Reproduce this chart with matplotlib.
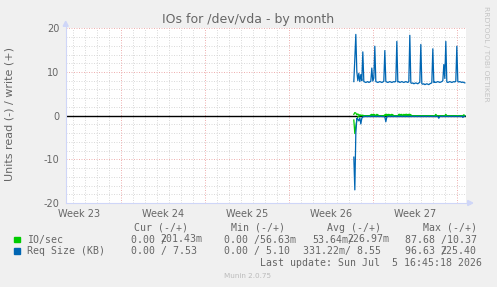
import numpy as np
import pandas as pd
import matplotlib
matplotlib.use("Agg")
import matplotlib.pyplot as plt
import matplotlib.dates as mdates
from matplotlib.patches import Rectangle, Polygon

# ---------------- data ----------------
title = "IOs for /dev/vda - by month"
ylabel = "Units read (-) / write (+)"
week_labels = ["Week 23", "Week 24", "Week 25", "Week 26", "Week 27"]
week_label_times = ["2026-06-03 12:00", "2026-06-10 12:00", "2026-06-17 12:00",
                    "2026-06-24 12:00", "2026-07-01 12:00"]
week_starts = ["2026-06-07", "2026-06-14", "2026-06-21", "2026-06-28", "2026-07-05"]
view_end = "2026-07-05 16:45:18"
view_days = 400 * 2 / 24.0
data_start = "2026-06-26 09:00"
data_step = "2h"
y_ticks = [-20, -10, 0, 10, 20]

# Req Size (KB), write (+)
size_write = [7.8, 13.0, 18.6, 10.1, 8.0, 9.7, 7.8, 9.4, 8.0, 14.6,
              7.8, 7.7, 7.6, 7.7, 7.8, 7.6, 7.7, 7.9, 10.9, 7.9,
              8.6, 15.9, 7.8, 7.7, 7.6, 7.7, 7.8, 7.7, 7.6, 7.7,
              7.9, 14.9, 7.8, 7.7, 7.6, 7.7, 7.8, 7.7, 7.6, 7.7,
              7.8, 7.7, 7.9, 17.0, 7.7, 7.8, 7.6, 7.7, 7.8, 7.7,
              7.6, 7.7, 7.8, 7.7, 7.6, 7.8, 18.4, 7.5, 7.4, 7.5,
              7.3, 7.4, 7.5, 7.4, 7.3, 7.5, 7.6, 16.3, 7.3, 7.2,
              7.3, 7.1, 7.2, 7.3, 7.2, 7.1, 7.3, 7.4, 7.5, 15.3,
              7.6, 7.7, 7.6, 7.7, 7.8, 7.7, 7.6, 7.7, 7.8, 8.0,
              11.7, 8.5, 17.0, 7.7, 7.6, 7.7, 7.8, 7.7, 7.6, 7.7,
              7.8, 7.7, 7.9, 15.9, 7.8, 7.7, 7.8, 7.7, 7.6, 7.7,
              7.6, 7.5]
# Req Size (KB), read (-)
size_read = [9.5, 17.0, 4.0, 0.6, 0.8, 1.2, 0.5, 1.9, 0.6, 0.3,
             0.2, 0.2, 0.1, 0.2, 0.2, 0.1, 0.2, 0.2, 0.1, 0.2,
             0.2, 0.1, 0.2, 0.2, 0.1, 0.2, 0.2, 0.1, 0.2, 0.2,
             0.2, 0.3, 1.4, 0.3, 0.2, 0.1, 0.2, 0.2, 0.1, 0.2,
             0.2, 0.1, 0.2, 0.2, 0.1, 0.2, 0.2, 0.1, 0.2, 0.2,
             0.1, 0.2, 0.2, 0.1, 0.2, 0.2, 0.1, 0.2, 0.2, 0.1,
             0.2, 0.2, 0.1, 0.2, 0.2, 0.1, 0.2, 0.2, 0.1, 0.2,
             0.2, 0.1, 0.2, 0.2, 0.1, 0.2, 0.2, 0.1, 0.2, 0.2,
             0.1, 0.2, 0.2, 0.1, 0.2, 0.6, 0.2, 0.1, 0.2, 0.2,
             0.1, 0.2, 0.2, 0.1, 0.2, 0.2, 0.1, 0.2, 0.2, 0.1,
             0.2, 0.2, 0.1, 0.2, 0.2, 0.1, 0.2, 0.2, 0.1, 0.4,
             0.2, 0.1]
# IO/sec, write (+)
io_write = [0.3, 0.7, 0.6, 0.2, 0.4, 0.1, 0.2, 0.1, 0.1, 0.1,
            0.0, 0.0, 0.0, 0.0, 0.0, 0.0, 0.0, 0.2, 0.3, 0.2,
            0.3, 0.2, 0.0, 0.3, 0.2, 0.0, 0.0, 0.0, 0.0, 0.0,
            0.0, 0.2, 0.3, 0.3, 0.2, 0.3, 0.2, 0.2, 0.3, 0.2,
            0.0, 0.0, 0.0, 0.0, 0.0, 0.3, 0.3, 0.2, 0.3, 0.0,
            0.3, 0.2, 0.3, 0.3, 0.2, 0.3, 0.3, 0.2, 0.0, 0.0,
            0.0, 0.0, 0.0, 0.0, 0.0, 0.0, 0.0, 0.0, 0.0, 0.0,
            0.0, 0.0, 0.0, 0.0, 0.0, 0.0, 0.0, 0.0, 0.0, 0.0,
            0.0, 0.0, 0.3, 0.0, 0.0, 0.0, 0.0, 0.0, 0.0, 0.0,
            0.0, 0.0, 0.3, 0.0, 0.0, 0.0, 0.0, 0.0, 0.0, 0.0,
            0.0, 0.0, 0.0, 0.0, 0.0, 0.0, 0.0, 0.0, 0.0, 0.0,
            0.2, 0.0]
# IO/sec, read (-)
io_read = [1.0, 4.1, 2.5, 1.0, 0.3, 0.1, 0.0, 0.0, 0.0, 0.0,
           0.0, 0.0, 0.0, 0.0, 0.0, 0.0, 0.0, 0.0, 0.0, 0.0,
           0.0, 0.0, 0.0, 0.0, 0.0, 0.0, 0.0, 0.0, 0.0, 0.0,
           0.0, 0.0, 0.0, 0.0, 0.0, 0.0, 0.0, 0.0, 0.0, 0.0,
           0.0, 0.0, 0.0, 0.0, 0.0, 0.0, 0.0, 0.0, 0.0, 0.0,
           0.0, 0.0, 0.0, 0.0, 0.0, 0.0, 0.0, 0.0, 0.0, 0.0,
           0.0, 0.0, 0.0, 0.0, 0.0, 0.0, 0.0, 0.0, 0.0, 0.0,
           0.0, 0.0, 0.0, 0.0, 0.0, 0.0, 0.0, 0.0, 0.0, 0.0,
           0.0, 0.0, 0.0, 0.0, 0.0, 0.0, 0.0, 0.0, 0.0, 0.0,
           0.0, 0.0, 0.0, 0.0, 0.0, 0.0, 0.0, 0.0, 0.0, 0.0,
           0.0, 0.0, 0.0, 0.0, 0.0, 0.0, 0.0, 0.0, 0.0, 0.0,
           0.0, 0.0]

legend_names = ["IO/sec", "Req Size (KB)"]
legend_colors = ["#00CC00", "#0066B3"]
col_headers = ["Cur (-/+)", "Min (-/+)", "Avg (-/+)", "Max (-/+)"]
last_update = "Last update: Sun Jul  5 16:45:18 2026"
version = "Munin 2.0.75"
watermark = "RRDTOOL / TOBI OETIKER"

# ---------------- figure ----------------
W, H = 497, 287
fig = plt.figure(figsize=(W / 100, H / 100), dpi=100, facecolor="#F0F0F0")

def fx(x):
    return x / W

def fy(y):
    return 1 - y / H

FONT = "#666666"
AXISC = "#CFD6F8"
L, R, T, B = 65.7, 465.7, 28.3, 203.0
ax = fig.add_axes([fx(L), fy(B), (R - L) / W, (B - T) / H])
ax.set_facecolor("white")
for s in ax.spines.values():
    s.set_visible(False)

t_end = pd.Timestamp(view_end)
t_beg = t_end - pd.Timedelta(days=view_days)
ax.set_xlim(mdates.date2num(t_beg), mdates.date2num(t_end))
ax.set_ylim(-20, 20)

# grid
week_ts = [pd.Timestamp(d) for d in week_starts]
day_lines = pd.date_range(pd.Timestamp("2026-06-03"), pd.Timestamp("2026-07-05"), freq="1D")
dots = (0, (1.2, 1.8))
for d in day_lines:
    if d in week_ts:
        continue
    ax.axvline(mdates.date2num(d), color="#D4D4D4", lw=0.6, ls=dots, zorder=1)
for v in range(-20, 21, 2):
    if v % 10:
        ax.axhline(v, color="#D4D4D4", lw=0.6, ls=dots, zorder=1)
for d in week_ts:
    ax.axvline(mdates.date2num(d), color="#EBA2A2", lw=0.6, ls=dots, zorder=1.5)
for v in y_ticks:
    ax.axhline(v, color="#EBA2A2", lw=0.6, ls=dots, zorder=1.5)

ax.axhline(0, color="black", lw=1.0, zorder=2)

times = pd.date_range(pd.Timestamp(data_start), periods=len(size_write), freq=data_step)
tn = mdates.date2num(times)
ax.plot(tn, -np.array(io_read), color=legend_colors[0], lw=0.9, zorder=3)
ax.plot(tn, np.array(io_write), color=legend_colors[0], lw=0.9, zorder=3)
ax.plot(tn, -np.array(size_read), color=legend_colors[1], lw=0.9, zorder=4)
ax.plot(tn, np.array(size_write), color=legend_colors[1], lw=0.9, zorder=4)

# ticks
ax.set_yticks(y_ticks)
ax.set_yticklabels([str(v) for v in y_ticks])
ax.set_xticks([mdates.date2num(pd.Timestamp(t)) for t in week_label_times])
ax.set_xticklabels(week_labels)
ax.tick_params(axis="both", length=0, labelsize=7, labelcolor=FONT)
ax.tick_params(axis="y", pad=4.5)
ax.tick_params(axis="x", pad=4.0)

# axis lines and arrows
fig.add_artist(plt.Line2D([fx(L), fx(L)], [fy(B), fy(T - 4)], color=AXISC, lw=0.8))
fig.add_artist(plt.Line2D([fx(L), fx(R + 3)], [fy(B), fy(B)], color=AXISC, lw=0.8))
fig.add_artist(Polygon([[fx(L - 2.5), fy(T - 2)], [fx(L + 2.5), fy(T - 2)], [fx(L), fy(T - 7)]],
                       closed=True, color=AXISC, transform=fig.transFigure))
fig.add_artist(Polygon([[fx(R + 2), fy(B - 2.5)], [fx(R + 2), fy(B + 2.5)], [fx(R + 7), fy(B)]],
                       closed=True, color=AXISC, transform=fig.transFigure))

# texts
fig.text(fx(248), fy(23.5), title, ha="center", va="baseline", fontsize=9, color=FONT)
fig.text(fx(10), fy(114.5), ylabel, ha="center", va="center", rotation=90, fontsize=8, color=FONT)
fig.text(fx(486), fy(53.5), watermark, ha="center", va="center", rotation=-90,
         fontsize=5.4, color="#C4C4C4")

mono = dict(family="DejaVu Sans Mono", fontsize=7.1, color=FONT, va="baseline")
hdr_x = [134, 231, 327, 423]
for x, h in zip(hdr_x, col_headers):
    fig.text(fx(x), fy(231), h, ha="left", **mono)

rows_y = [242.5, 254]
for i, (name, c) in enumerate(zip(legend_names, legend_colors)):
    y = rows_y[i]
    fig.add_artist(Rectangle((fx(14), fy(y - 0.5)), 5.5 / W, 5.5 / H, color=c,
                             transform=fig.transFigure))
    fig.text(fx(27), fy(y), name, ha="left", **mono)

cw = 5.85
# row 1 (IO/sec) -- the reference overprints the slash with the first digit
fig.text(fx(131), fy(242.5), "0.00 /", ha="left", **mono)
fig.text(fx(131 + 5 * cw), fy(242.5), "201.43m", ha="left", **mono)
fig.text(fx(224.3), fy(242.5), "0.00 /56.63m", ha="left", **mono)
fig.text(fx(312), fy(242.5), "53.64m/", ha="left", **mono)
fig.text(fx(312 + 6 * cw), fy(242.5), "226.97m", ha="left", **mono)
fig.text(fx(405), fy(242.5), "87.68 /10.37", ha="left", **mono)
# row 2 (Req Size)
fig.text(fx(131), fy(254), "0.00 / 7.53", ha="left", **mono)
fig.text(fx(224.3), fy(254), "0.00 / 5.10", ha="left", **mono)
fig.text(fx(303), fy(254), "331.22m/ 8.55", ha="left", **mono)
fig.text(fx(405), fy(254), "96.63 /", ha="left", **mono)
fig.text(fx(405 + 6 * cw), fy(254), "225.40", ha="left", **mono)

fig.text(fx(482), fy(266.5), last_update, ha="right", **mono)
fig.text(fx(248), fy(278.5), version, ha="center", va="baseline", fontsize=5.2, color="#BBBBBB")

fig.savefig("out.png", dpi=100, facecolor=fig.get_facecolor())
